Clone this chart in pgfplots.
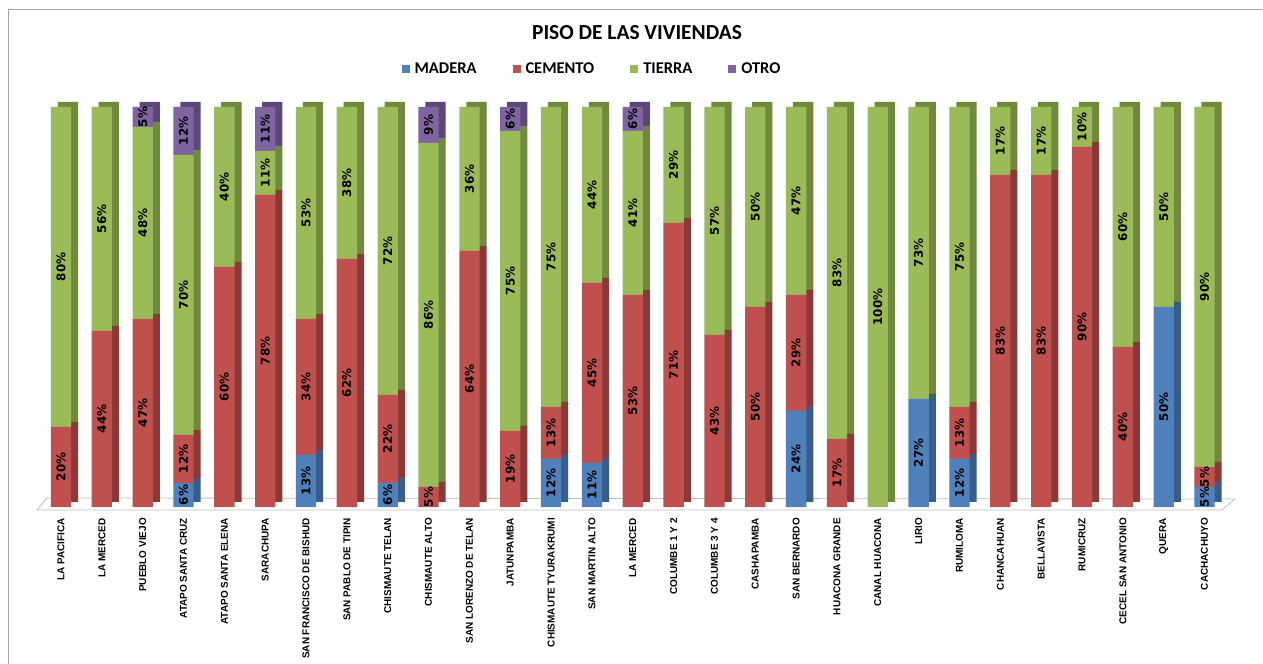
\documentclass[border=0pt]{standalone}
\usepackage{fontspec}
\usepackage{pgfplots}
\usepackage{pgfplotstable}
\pgfplotsset{compat=1.18}
\setmainfont{Carlito}
\newfontfamily\labfont{Liberation Sans}
\newfontfamily\dvfont{DejaVu Sans}

\definecolor{cmad}{HTML}{4F81BD}
\definecolor{ccem}{HTML}{C0504D}
\definecolor{ctie}{HTML}{9BBB59}
\definecolor{cotr}{HTML}{8064A2}
\definecolor{dmad}{HTML}{385D8A}
\definecolor{dcem}{HTML}{8C3836}
\definecolor{dtie}{HTML}{6F8A3C}
\definecolor{dotr}{HTML}{5C4776}

\pgfplotstableread{
x mad cem tie otr
0 0 20 80 0
1 0 44 56 0
2 0 47 48 5
3 6 12 70 12
4 0 60 40 0
5 0 78 11 11
6 13 34 53 0
7 0 62 38 0
8 6 22 72 0
9 0 5 86 9
10 0 64 36 0
11 0 19 75 6
12 12 13 75 0
13 11 45 44 0
14 0 53 41 6
15 0 71 29 0
16 0 43 57 0
17 0 50 50 0
18 24 29 47 0
19 0 17 83 0
20 0 0 100 0
21 27 0 73 0
22 12 13 75 0
23 0 83 17 0
24 0 83 17 0
25 0 90 10 0
26 0 40 60 0
27 50 0 50 0
28 5 5 90 0
}\datatable

\pgfplotsset{
  basebar/.style={
    scale only axis,
    width=1192.5bp, height=400bp,
    xmin=-0.6, xmax=28.6, ymin=0, ymax=100,
    axis line style={draw=none},
    ytick=\empty,
    major tick length=0pt,
    clip=false,
  },
  segbar/.style={basebar, ybar stacked, bar width=20.3bp},
  seglab/.style={draw=none, mark=none, nodes near coords, point meta=\thisrow{#1},
    nodes near coords={\pgfmathfloatifflags{\pgfplotspointmeta}{0}{}{\pgfmathprintnumber{\pgfplotspointmeta}\%}}},
}

\begin{document}
\begin{tikzpicture}
\useasboundingbox (0,0) rectangle (1263bp,664bp);
\fill[white] (0,0) rectangle (1263bp,664bp);
\draw[gray!70, line width=0.8bp] (8bp,0) -- (8bp,655bp) -- (1263bp,655bp);

% floor
\draw[gray!50, fill=white, line width=0.8bp] (37bp,154bp) -- (1222bp,154bp) -- (1235bp,165bp) -- (47bp,166bp) -- cycle;

% back (side / top faces)
\begin{axis}[segbar, at={(43.5bp,162bp)}, anchor=south west, xtick=\empty]
\addplot[fill=dmad, draw=none] table[x=x, y=mad] {\datatable};
\addplot[fill=dcem, draw=none] table[x=x, y=cem] {\datatable};
\addplot[fill=dtie, draw=none] table[x=x, y=tie] {\datatable};
\addplot[fill=dotr, draw=none] table[x=x, y=otr] {\datatable};
\end{axis}

% front faces
\begin{axis}[segbar, at={(36.5bp,157bp)}, anchor=south west,
  xtick={0,...,28},
  xticklabels={LA PACIFICA, LA MERCED, PUEBLO VIEJO, ATAPO SANTA CRUZ, ATAPO SANTA ELENA, SARACHUPA, SAN FRANCISCO DE BISHUD, SAN PABLO DE TIPIN, CHISMAUTE TELAN, CHISMAUTE ALTO, SAN LORENZO DE TELAN, JATUNPAMBA, CHISMAUTE TYURAKRUMI, SAN MARTIN ALTO, LA MERCED, COLUMBE 1 Y 2, COLUMBE 3 Y 4, CASHAPAMBA, SAN BERNARDO, HUACONA GRANDE, CANAL HUACONA, LIRIO, RUMILOMA, CHANCAHUAN, BELLAVISTA, RUMICRUZ, CECEL SAN ANTONIO, QUERA, CACHACHUYO},
  xticklabel style={rotate=90, anchor=east, inner sep=0pt, font=\labfont\bfseries\fontsize{10}{11}\selectfont},
  xticklabel shift=11bp,
  legend columns=4,
  legend image code/.code={\fill[#1] (0bp,-4bp) rectangle (8bp,4bp);},
  legend style={at={(0.465,1.095)}, anchor=center, draw=none, fill=none,
    inner sep=0pt, nodes={inner sep=0pt, anchor=west},
    font=\bfseries\fontsize{16.5}{18}\selectfont,
    /tikz/every odd column/.append style={column sep=5bp},
    /tikz/every even column/.append style={column sep=36bp}},
]
\addplot[fill=cmad, draw=none] table[x=x, y=mad] {\datatable};
\addplot[fill=ccem, draw=none] table[x=x, y=cem] {\datatable};
\addplot[fill=ctie, draw=none] table[x=x, y=tie] {\datatable};
\addplot[fill=cotr, draw=none] table[x=x, y=otr] {\datatable};
\legend{MADERA, CEMENTO, TIERRA, OTRO}
\end{axis}

% value labels centred in each segment
\begin{axis}[basebar, at={(36.5bp,157bp)}, anchor=south west, xtick=\empty,
  every node near coord/.append style={rotate=90, anchor=center, inner sep=0pt, text=black,
    font=\dvfont\bfseries\fontsize{12}{13}\selectfont,
    /pgf/number format/assume math mode=true}]
\addplot[seglab=mad] table[x=x, y expr={\thisrow{mad}/2}] {\datatable};
\addplot[seglab=cem] table[x=x, y expr={\thisrow{mad}+\thisrow{cem}/2}] {\datatable};
\addplot[seglab=tie] table[x=x, y expr={\thisrow{mad}+\thisrow{cem}+\thisrow{tie}/2}] {\datatable};
\addplot[seglab=otr] table[x=x, y expr={\thisrow{mad}+\thisrow{cem}+\thisrow{tie}+\thisrow{otr}/2}] {\datatable};
\end{axis}

\node[font=\bfseries\fontsize{21.5}{23}\selectfont] at (637bp,631bp) {PISO DE LAS VIVIENDAS};
\end{tikzpicture}
\end{document}
